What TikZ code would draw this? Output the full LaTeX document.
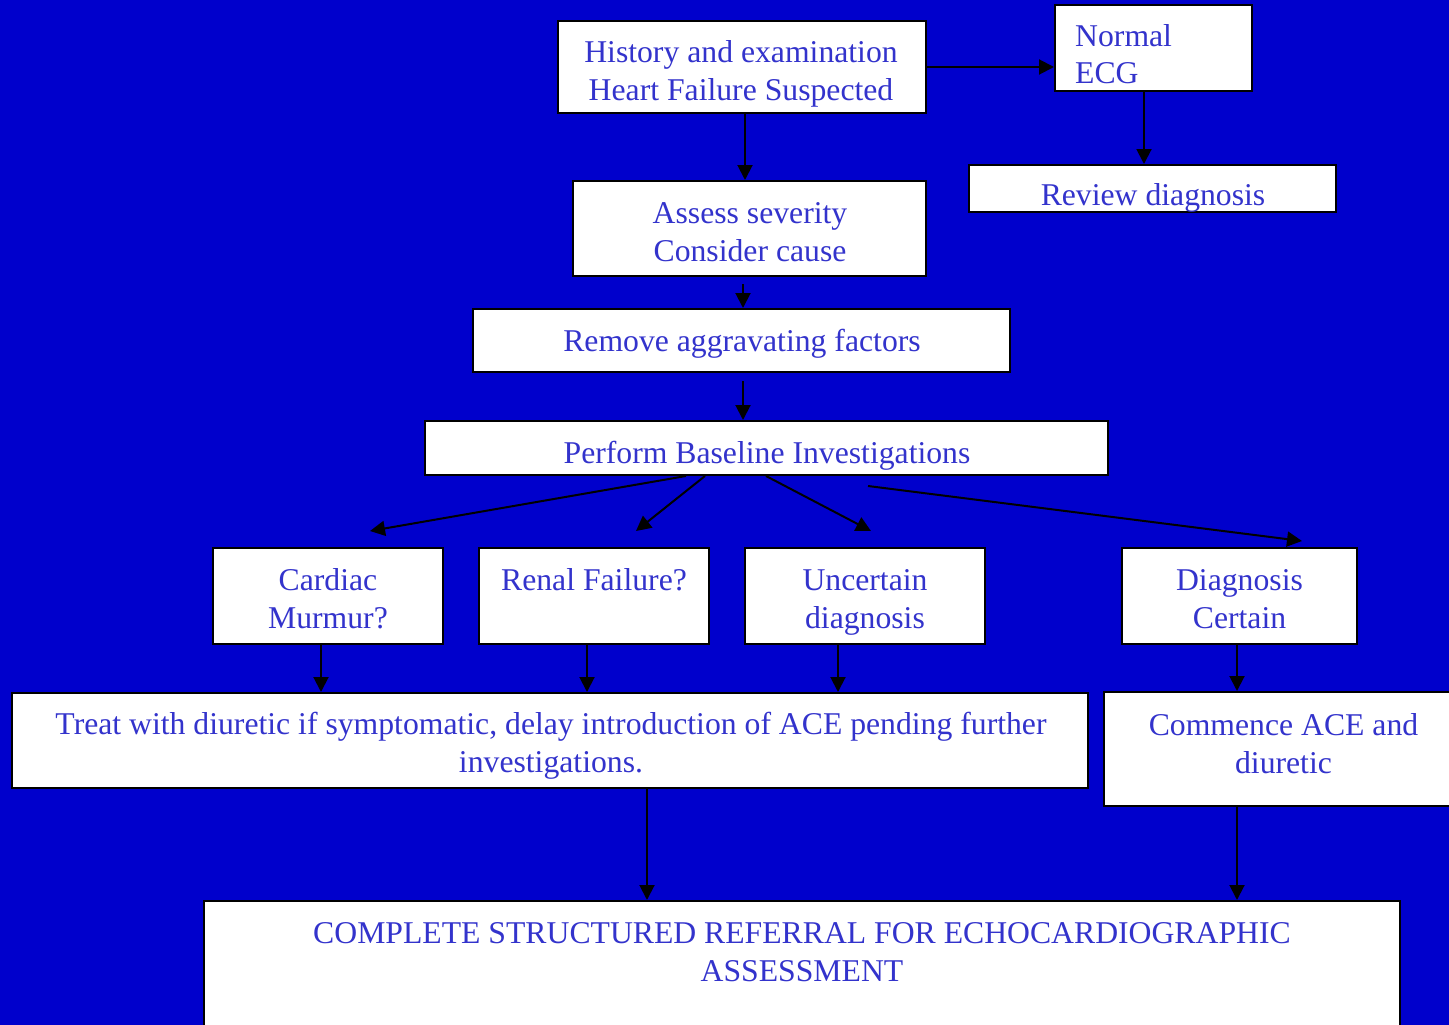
\documentclass[tikz,border=0pt]{standalone}
\usepackage{fontspec}
\setmainfont{Liberation Serif}
\usetikzlibrary{arrows.meta,calc}
\definecolor{bg}{RGB}{0,0,204}
\definecolor{txt}{RGB}{51,51,204}
\begin{document}
\begin{tikzpicture}[x=1pt,y=-1pt,
  box/.style={draw=black,line width=2pt,fill=white,inner sep=0pt},
  tx/.style={anchor=base,inner sep=0pt,text=txt,font=\fontsize{31.7}{37.5}\selectfont},
  txl/.style={tx,anchor=base west},
  arr/.style={line width=2pt,-{Triangle[length=15pt,width=15pt]}}]
\fill[bg] (0,0) rectangle (1449,1025);
\useasboundingbox (0,0) rectangle (1449,1025);

% boxes
\node[box,minimum width=368pt,minimum height=92pt] (hist) at (742,67) {};
\node[box,minimum width=197pt,minimum height=86pt] (ecg) at (1153.5,48) {};
\node[box,minimum width=367pt,minimum height=47pt] (review) at (1152.5,188.5) {};
\node[box,minimum width=353pt,minimum height=95pt] (assess) at (749.5,228.5) {};
\node[box,minimum width=537pt,minimum height=63pt] (remove) at (741.5,340.5) {};
\node[box,minimum width=683pt,minimum height=54pt] (perform) at (766.5,448) {};
\node[box,minimum width=230pt,minimum height=96pt] (cardiac) at (328,596) {};
\node[box,minimum width=230pt,minimum height=96pt] (renal) at (594,596) {};
\node[box,minimum width=240pt,minimum height=96pt] (uncertain) at (865,596) {};
\node[box,minimum width=235pt,minimum height=96pt] (diag) at (1239.5,596) {};
\node[box,minimum width=1076pt,minimum height=95pt] (treat) at (550,740.5) {};
\node[box,minimum width=366pt,minimum height=114pt] (commence) at (1287,749) {};
\node[box,minimum width=1196pt,minimum height=149pt] (complete) at (802,975.5) {};

% texts
\node[tx] (hist1) at (741,63) {History and examination};
\node[tx] (hist2) at (741,100) {Heart Failure Suspected};
\node[txl] (ecg1) at (1075,47) {Normal};
\node[txl] (ecg2) at (1075,84) {ECG};
\node[tx] (review1) at (1153,205) {Review diagnosis};
\node[tx] (assess1) at (750,223) {Assess severity};
\node[tx] (assess2) at (750,261) {Consider cause};
\node[tx] (remove1) at (742,351) {Remove aggravating factors};
\node[tx] (perform1) at (767,463) {Perform Baseline Investigations};
\node[tx] (cardiac1) at (328,590) {Cardiac};
\node[tx] (cardiac2) at (328,628) {Murmur?};
\node[tx] (renal1) at (594,590) {Renal Failure?};
\node[tx] (uncertain1) at (865,590) {Uncertain};
\node[tx] (uncertain2) at (865,628) {diagnosis};
\node[tx] (diag1) at (1239.5,590) {Diagnosis};
\node[tx] (diag2) at (1239.5,628) {Certain};
\node[tx] (treat1) at (551,734) {Treat with diuretic if symptomatic, delay introduction of ACE pending further};
\node[tx] (treat2) at (551,772) {investigations.};
\node[tx] (commence1) at (1283.5,735) {Commence ACE and};
\node[tx] (commence2) at (1283.5,773) {diuretic};
\node[tx] (complete1) at (802,943) {COMPLETE STRUCTURED REFERRAL FOR ECHOCARDIOGRAPHIC};
\node[tx] (complete2) at (802,981) {ASSESSMENT};

% connectors
\draw[arr] (hist.east) -- (hist.east -| ecg.west);
\draw[arr] ([xshift=-9.5pt]ecg.south) -- ([xshift=-9.5pt]ecg.south |- review.north);
\draw[arr] ([xshift=3pt]hist.south) -- ([xshift=3pt]hist.south |- assess.north);
\draw[arr] ([xshift=-6.5pt,yshift=-7pt]assess.south) -- ([xshift=-6.5pt]assess.south |- remove.north);
\draw[arr] ([xshift=1.5pt,yshift=-8pt]remove.south) -- ([xshift=1.5pt]remove.south |- perform.north);
\draw[arr] ([xshift=-80.5pt]perform.south) -- ([xshift=42pt,yshift=16pt]cardiac.north);
\draw[arr] ([xshift=-61.5pt]perform.south) -- ([xshift=42pt,yshift=16pt]renal.north);
\draw[arr] ([xshift=-0.5pt]perform.south) -- ([xshift=6pt,yshift=16pt]uncertain.north);
\draw[arr] ([xshift=101.5pt,yshift=-10pt]perform.south) -- ([xshift=62.5pt,yshift=6pt]diag.north);
\draw[arr] ([xshift=-7pt]cardiac.south) -- ([xshift=-7pt]cardiac.south |- treat.north);
\draw[arr] ([xshift=-7pt]renal.south) -- ([xshift=-7pt]renal.south |- treat.north);
\draw[arr] ([xshift=-27pt]uncertain.south) -- ([xshift=-27pt]uncertain.south |- treat.north);
\draw[arr] ([xshift=-2.5pt]diag.south) -- ([xshift=-2.5pt]diag.south |- commence.north);
\draw[arr] ([xshift=97pt]treat.south) -- ([xshift=97pt]treat.south |- complete.north);
\draw[arr] ([xshift=-50pt]commence.south) -- ([xshift=-50pt]commence.south |- complete.north);
\end{tikzpicture}
\end{document}
